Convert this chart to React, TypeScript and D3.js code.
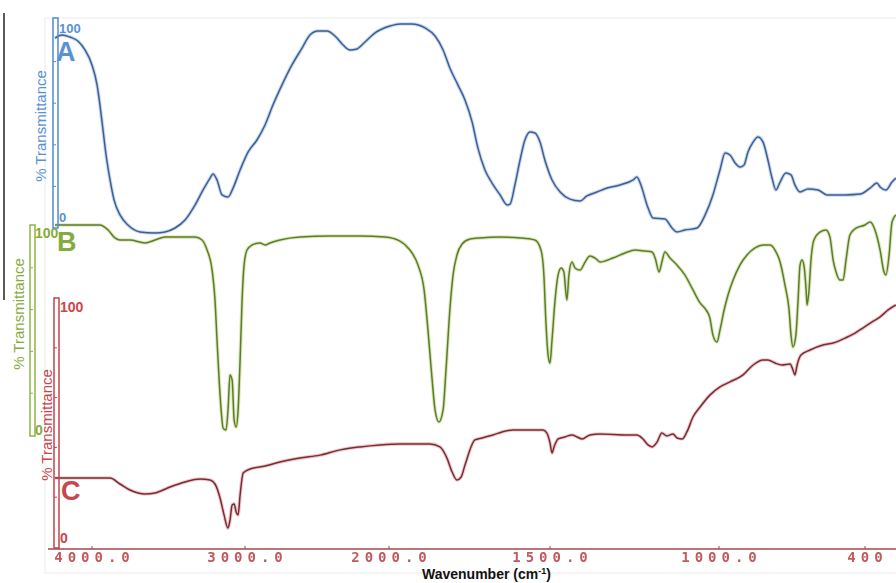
import React from 'react';
import * as d3 from 'd3';

// X axis ticks (wavenumber, cm-1) and labels
const tickValues = [4000, 3000, 2000, 1500, 1000, 400];
const tickLabels = ['4000.0', '3000.0', '2000.0', '1500.0', '1000.0', '400'];
const yTicks = [0, 20, 40, 60, 80, 100];

// Spectrum A
const aWavenumber = [4242, 4196, 4144, 4092, 4046, 4000, 3967, 3948, 3928, 3908, 3882, 3856, 3817, 3765, 3686, 3588, 3523, 3457, 3392, 3326, 3274, 3228, 3209, 3183, 3150, 3111, 3078, 3032, 2979, 2917, 2861, 2806, 2743, 2674, 2604, 2549, 2493, 2431, 2375, 2319, 2271, 2222, 2167, 2097, 1997, 1966, 1929, 1888, 1857, 1832, 1811, 1786, 1764, 1742, 1724, 1702, 1680, 1655, 1633, 1624, 1609, 1593, 1578, 1562, 1547, 1531, 1516, 1494, 1470, 1441, 1411, 1391, 1361, 1331, 1293, 1254, 1243, 1231, 1213, 1195, 1160, 1139, 1124, 1101, 1065, 1041, 1018, 996, 975, 955, 934, 914, 897, 881, 860, 840, 819, 799, 782, 766, 749, 725, 704, 688, 667, 634, 593, 556, 482, 420, 379, 351, 338, 314, 289, 273];
const aTransmittance = [91.3, 92.8, 91.8, 89.9, 85.6, 78.4, 68.8, 59.1, 47.1, 35.1, 23.1, 13.5, 6.3, 1.4, -1.9, -2.4, -1.9, 0, 3.8, 11.1, 18.3, 24.0, 26.0, 23.1, 15.9, 14.9, 19.2, 27.9, 36.5, 42.3, 49.5, 59.1, 68.8, 78.4, 86.5, 92.8, 94.7, 94.7, 92.3, 88.0, 85.6, 86.1, 89.4, 93.8, 97.1, 98.1, 98.1, 96.2, 92.3, 85.6, 76.9, 68.8, 61.5, 51.0, 38.5, 27.9, 21.6, 15.9, 11.1, 11.5, 20.7, 32.7, 42.3, 46.2, 45.7, 41.3, 32.7, 23.1, 17.3, 13.9, 13.0, 15.4, 17.3, 19.2, 20.7, 23.1, 24.5, 20.7, 11.1, 4.8, 4.3, 0, -1.9, -1.0, 0, 6.3, 15.9, 27.9, 36.1, 35.1, 31.3, 29.3, 30.3, 36.5, 41.3, 43.8, 41.3, 32.7, 24.0, 18.3, 22.1, 26.4, 25.5, 20.7, 17.3, 18.8, 18.3, 15.9, 15.9, 16.3, 19.2, 21.6, 19.7, 18.3, 22.1, 24.0];

// Spectrum B
const bWavenumber = [4242, 3948, 3895, 3850, 3817, 3752, 3653, 3588, 3523, 3425, 3326, 3281, 3248, 3215, 3196, 3183, 3169, 3156, 3143, 3124, 3111, 3098, 3084, 3071, 3058, 3045, 3032, 3019, 3006, 2986, 2951, 2896, 2861, 2826, 2757, 2618, 2410, 2201, 2028, 1966, 1935, 1910, 1891, 1879, 1866, 1857, 1845, 1832, 1823, 1811, 1801, 1789, 1773, 1748, 1717, 1655, 1593, 1547, 1528, 1519, 1513, 1506, 1500, 1494, 1485, 1476, 1467, 1459, 1450, 1444, 1435, 1426, 1411, 1396, 1382, 1367, 1352, 1314, 1278, 1248, 1219, 1198, 1189, 1177, 1169, 1160, 1145, 1124, 1101, 1077, 1056, 1038, 1027, 1018, 1006, 996, 979, 963, 942, 914, 885, 852, 819, 790, 770, 749, 729, 712, 704, 696, 684, 675, 667, 659, 651, 642, 638, 630, 622, 610, 585, 560, 544, 531, 519, 503, 490, 478, 462, 437, 400, 379, 359, 338, 322, 314, 301, 289, 273];
const bTransmittance = [100.5, 100.5, 98.1, 94.3, 93.3, 93.3, 91.9, 93.3, 94.7, 94.7, 94.7, 93.3, 88.5, 78.9, 64.6, 45.5, 26.3, 12.0, 3.3, 2.4, 12.0, 28.7, 26.3, 7.2, 3.8, 12.0, 35.9, 64.6, 81.3, 88.5, 90.9, 91.9, 90.9, 91.9, 93.3, 94.7, 95.2, 95.2, 94.7, 92.8, 88.5, 81.3, 69.4, 50.2, 26.3, 12.0, 6.2, 12.0, 31.1, 59.8, 76.6, 86.1, 91.4, 93.8, 94.3, 94.7, 94.3, 93.3, 88.5, 76.6, 55.0, 38.3, 34.4, 45.5, 64.6, 76.6, 79.9, 78.0, 64.6, 76.6, 82.8, 79.9, 78.9, 82.8, 85.6, 84.7, 82.8, 84.7, 87.1, 88.5, 88.0, 87.6, 84.7, 78.0, 82.8, 87.6, 84.7, 81.3, 76.6, 69.4, 63.2, 59.8, 56.0, 47.8, 44.5, 50.2, 59.8, 67.0, 74.2, 81.3, 86.1, 89.5, 90.9, 90.9, 88.5, 82.8, 71.8, 59.8, 47.8, 42.1, 47.8, 64.6, 81.3, 83.7, 81.3, 69.4, 62.2, 69.4, 83.7, 93.3, 97.1, 98.1, 94.7, 83.7, 78.0, 74.2, 74.2, 83.7, 95.7, 99.0, 100.5, 101.9, 98.1, 88.5, 78.0, 76.6, 86.1, 101.9, 105.3];

// Spectrum C
const cWavenumber = [4242, 3882, 3817, 3752, 3653, 3588, 3490, 3392, 3294, 3228, 3196, 3163, 3137, 3111, 3098, 3084, 3071, 3058, 3045, 3032, 3012, 2965, 2861, 2757, 2618, 2479, 2340, 2201, 2062, 1966, 1873, 1842, 1820, 1804, 1789, 1776, 1764, 1733, 1711, 1677, 1649, 1615, 1522, 1510, 1500, 1494, 1488, 1476, 1456, 1435, 1420, 1405, 1382, 1352, 1272, 1243, 1225, 1210, 1198, 1183, 1169, 1154, 1136, 1124, 1109, 1095, 1077, 1056, 1027, 996, 955, 901, 860, 819, 799, 770, 741, 708, 696, 688, 679, 663, 626, 573, 531, 482, 441, 408, 371, 338, 305, 273];
const cTransmittance = [27.7, 27.7, 25.3, 22.9, 21.3, 21.7, 24.1, 26.1, 27.3, 26.9, 25.3, 19.7, 12.9, 7.6, 10.8, 16.9, 17.3, 14.1, 12.9, 20.9, 29.7, 31.3, 32.5, 34.1, 35.7, 36.9, 39.0, 40.2, 41.0, 41.4, 41.4, 40.2, 35.7, 30.1, 26.9, 28.1, 32.9, 43.0, 43.8, 45.0, 46.2, 47.0, 47.0, 45.8, 41.8, 37.8, 40.2, 43.4, 44.2, 45.0, 44.2, 43.4, 45.0, 45.4, 45.0, 45.0, 43.4, 41.0, 40.2, 42.2, 45.8, 44.6, 45.4, 43.8, 43.4, 46.2, 52.2, 56.2, 61.0, 64.3, 66.3, 69.1, 73.1, 75.1, 75.1, 73.9, 73.1, 73.5, 71.1, 69.1, 73.1, 77.1, 79.1, 81.1, 81.9, 83.9, 85.9, 88.0, 90.4, 92.4, 95.2, 97.2];

const W = 896;
const H = 583;

const x = d3.scaleLinear().domain(tickValues).range([92, 245, 389, 550, 719, 865]);

const panels = [
  { key: 'A', wn: aWavenumber, tr: aTransmittance, y: d3.scaleLinear().domain([0, 100]).range([228, 20]),
    halo: '#9dbbe3', core: '#3e5d92', axis: '#4f8bd8', text: '#5a90d8',
    barX: 53, barTop: 18, barBottom: 228, lblX: 59, hiY: 33, loY: 222, lblSize: 13,
    titleX: 40, titleY: 126, letterX: 56, letterY: 61 },
  { key: 'B', wn: bWavenumber, tr: bTransmittance, y: d3.scaleLinear().domain([0, 100]).range([435, 226]),
    halo: '#bcd68a', core: '#5d7c26', axis: '#8fb544', text: '#86ab3c',
    barX: 30, barTop: 225, barBottom: 436, lblX: 35, hiY: 238, loY: 435, lblSize: 14,
    titleX: 18, titleY: 314, letterX: 57, letterY: 251 },
  { key: 'C', wn: cWavenumber, tr: cTransmittance, y: d3.scaleLinear().domain([0, 100]).range([547, 298]),
    halo: '#dba2a6', core: '#7b2a31', axis: '#c2444a', text: '#c8464c',
    barX: 54, barTop: 298, barBottom: 548, lblX: 60, hiY: 312, loY: 543, lblSize: 14,
    titleX: 46, titleY: 425, letterX: 61, letterY: 500 },
];

export default function App() {
  return (
    <svg width={W} height={H} viewBox={`0 0 ${W} ${H}`}
      style={{ position: 'absolute', left: 0, top: 0, display: 'block', background: '#fff' }}
      fontFamily="'Liberation Sans', Arial, sans-serif">
      {/* faint frame */}
      <rect x={45} y={18} width={870} height={555} fill="none" stroke="#ebebeb" strokeWidth={1} />
      {/* black side line */}
      <line x1={4} y1={13} x2={4} y2={300} stroke="#222" strokeWidth={1.5} />

      {panels.map((p) => {
        const pts = p.wn.map((w, i) => [w, p.tr[i]] as [number, number]);
        const line = d3.line<[number, number]>()
          .x((d) => x(d[0]))
          .y((d) => p.y(d[1]))
          .curve(d3.curveMonotoneX);
        const path = line(pts) || '';
        return (
          <g key={p.key}>
            <path d={path} fill="none" stroke={p.halo} strokeWidth={3.6} strokeOpacity={0.55} strokeLinejoin="round" />
            <path d={path} fill="none" stroke={p.core} strokeWidth={1.5} strokeLinejoin="round" />
          </g>
        );
      })}

      {panels.map((p) => (
        <g key={'ax' + p.key}>
          <rect x={p.barX} y={p.barTop} width={5} height={p.barBottom - p.barTop}
            fill="none" stroke={p.axis} strokeWidth={1.5} />
          {yTicks.slice(1, -1).map((t) => (
            <line key={t} x1={p.barX} x2={p.barX + 3} y1={p.y(t)} y2={p.y(t)} stroke={p.axis} strokeWidth={1} />
          ))}
          <text x={p.lblX} y={p.hiY} fill={p.text} fontSize={p.lblSize} fontWeight="bold">100</text>
          <text x={p.lblX} y={p.loY} fill={p.text} fontSize={p.lblSize} fontWeight="bold">0</text>
          <text transform={`translate(${p.titleX},${p.titleY}) rotate(-90)`} textAnchor="middle"
            dominantBaseline="central" fill={p.text} fontSize={15}>% Transmittance</text>
          <text x={p.letterX} y={p.letterY} fill={p.text} fontSize={27} fontWeight="bold">{p.key}</text>
        </g>
      ))}

      {/* x axis */}
      <line x1={48} x2={W} y1={549} y2={549} stroke="#a3474d" strokeWidth={1.6} />
      {tickValues.map((t, i) => (
        <g key={t}>
          <line x1={x(t)} x2={x(t)} y1={549} y2={546} stroke="#a3474d" strokeWidth={1} />
          <text x={x(t) + 2.5} y={562} textAnchor="middle" fill="#c2595e" fontSize={14} fontWeight="bold"
            fontFamily="'DejaVu Sans Mono', monospace" letterSpacing={5}
            style={{ filter: 'blur(0.3px)' }}>{tickLabels[i]}</text>
        </g>
      ))}
      <text x={422} y={579} fill="#111" fontSize={14} fontWeight="bold">
        Wavenumber (cm<tspan dy={-5} fontSize={9}>-1</tspan><tspan dy={5}>)</tspan>
      </text>
    </svg>
  );
}
